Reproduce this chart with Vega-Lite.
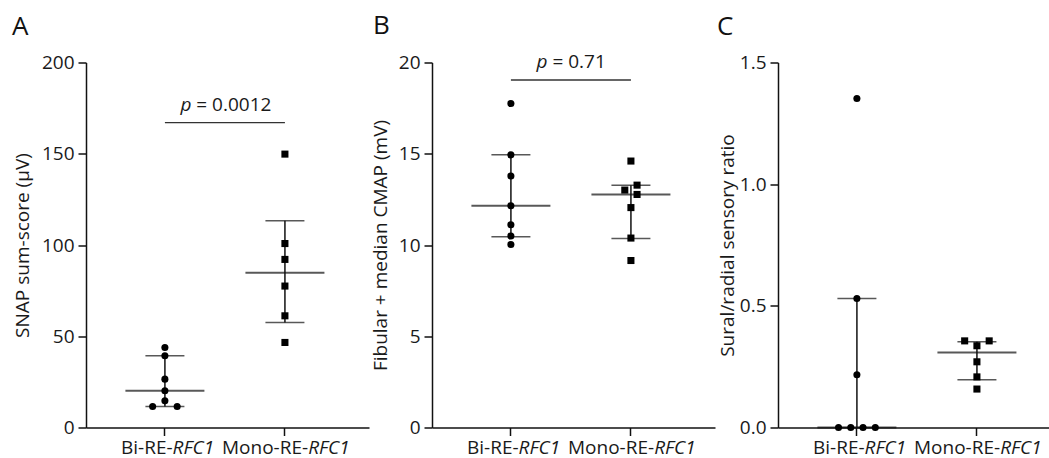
{
  "$schema": "https://vega.github.io/schema/vega-lite/v6.json",
  "padding": {"left": 12, "top": 12.5, "right": 0, "bottom": 6},
  "background": "white",
  "bounds": "flush",
  "spacing": 63,
  "config": {
    "view": {"stroke": null},
    "font": "Open Sans",
    "axis": {
      "domainColor": "#111", "domainWidth": 1.5, "tickColor": "#111", "tickWidth": 1.5, "tickSize": 8,
      "labelFont": "Open Sans", "labelFontSize": 19, "labelColor": "#1a1a1a", "labelPadding": 4,
      "titleFont": "Open Sans", "titleFontSize": 19, "titleFontWeight": "normal", "titleColor": "#1a1a1a",
      "grid": false
    },
    "title": {"font": "Open Sans", "fontSize": 26, "fontWeight": "normal", "color": "#111", "anchor": "start", "frame": "group"},
    "text": {"font": "Open Sans", "fontSize": 19, "color": "#1a1a1a", "baseline": "alphabetic"}
  },
  "datasets": {
    "pts": [
      {"panel": "A", "group": 1, "slot": 0, "value": 43.8},
      {"panel": "A", "group": 1, "slot": 0, "value": 39.3},
      {"panel": "A", "group": 1, "slot": 0, "value": 26.5},
      {"panel": "A", "group": 1, "slot": 0, "value": 20.1},
      {"panel": "A", "group": 1, "slot": 0, "value": 14.6},
      {"panel": "A", "group": 1, "slot": -1, "value": 11.5},
      {"panel": "A", "group": 1, "slot": 1, "value": 11.5},
      {"panel": "A", "group": 2, "slot": 0, "value": 149.8},
      {"panel": "A", "group": 2, "slot": 0, "value": 100.8},
      {"panel": "A", "group": 2, "slot": 0, "value": 92.1},
      {"panel": "A", "group": 2, "slot": 0, "value": 77.5},
      {"panel": "A", "group": 2, "slot": 0, "value": 61.2},
      {"panel": "A", "group": 2, "slot": 0, "value": 46.6},
      {"panel": "B", "group": 1, "slot": 0, "value": 17.75},
      {"panel": "B", "group": 1, "slot": 0, "value": 14.94},
      {"panel": "B", "group": 1, "slot": 0, "value": 13.78},
      {"panel": "B", "group": 1, "slot": 0, "value": 12.15},
      {"panel": "B", "group": 1, "slot": 0, "value": 11.11},
      {"panel": "B", "group": 1, "slot": 0, "value": 10.49},
      {"panel": "B", "group": 1, "slot": 0, "value": 10.03},
      {"panel": "B", "group": 2, "slot": 0, "value": 14.6},
      {"panel": "B", "group": 2, "slot": -0.5, "value": 13.01},
      {"panel": "B", "group": 2, "slot": 0.5, "value": 13.28},
      {"panel": "B", "group": 2, "slot": 0.5, "value": 12.77},
      {"panel": "B", "group": 2, "slot": 0, "value": 12.05},
      {"panel": "B", "group": 2, "slot": 0, "value": 10.38},
      {"panel": "B", "group": 2, "slot": 0, "value": 9.15},
      {"panel": "C", "group": 1, "slot": 0, "value": 1.352},
      {"panel": "C", "group": 1, "slot": 0, "value": 0.53},
      {"panel": "C", "group": 1, "slot": 0, "value": 0.217},
      {"panel": "C", "group": 1, "slot": -1.5, "value": 0},
      {"panel": "C", "group": 1, "slot": -0.5, "value": 0},
      {"panel": "C", "group": 1, "slot": 0.5, "value": 0},
      {"panel": "C", "group": 1, "slot": 1.5, "value": 0},
      {"panel": "C", "group": 2, "slot": -1, "value": 0.356},
      {"panel": "C", "group": 2, "slot": 1, "value": 0.356},
      {"panel": "C", "group": 2, "slot": 0, "value": 0.336},
      {"panel": "C", "group": 2, "slot": 0, "value": 0.27},
      {"panel": "C", "group": 2, "slot": 0, "value": 0.208},
      {"panel": "C", "group": 2, "slot": 0, "value": 0.158}
    ],
    "sum": [
      {"panel": "A", "group": 1, "median": 20.1, "q1": 11.5, "q3": 39.3},
      {"panel": "A", "group": 2, "median": 84.8, "q1": 57.5, "q3": 113.3},
      {"panel": "B", "group": 1, "median": 12.15, "q1": 10.45, "q3": 14.94},
      {"panel": "B", "group": 2, "median": 12.77, "q1": 10.36, "q3": 13.28},
      {"panel": "C", "group": 1, "median": 0, "q1": 0, "q3": 0.53},
      {"panel": "C", "group": 2, "median": 0.308, "q1": 0.196, "q3": 0.352}
    ],
    "ann": [
      {"panel": "A", "from": 1, "to": 2, "y": 167.1, "p": "p", "rest": "= 0.0012"},
      {"panel": "B", "from": 1, "to": 2, "y": 19.04, "p": "p", "rest": "= 0.71"}
    ],
    "labs": [
      {"group": 1, "plain": "Bi-RE-", "ital": "RFC1"},
      {"group": 2, "plain": "Mono-RE-", "ital": "RFC1"}
    ]
  },
  "hconcat": [
    {
      "title": {"text": "A", "dx": -74, "offset": 14},
      "width": 283, "height": 365,
      "layer": [
        {
          "data": {"name": "sum"}, "transform": [{"filter": "datum.panel == 'A'"}],
          "mark": {"type": "rule", "color": "#111", "strokeWidth": 1.5},
          "encoding": {
            "x": {"field": "group", "type": "ordinal", "scale": {"type": "band", "domain": [1, 2], "paddingInner": 0, "paddingOuter": 0.179, "align": 0.44}, "axis": {"labels": false, "title": null}},
            "y": {"field": "q1", "type": "quantitative", "scale": {"domain": [0, 200], "nice": false}, "axis": {"values": [0, 50, 100, 150, 200], "title": "SNAP sum-score (μV)", "titlePadding": 9}},
            "y2": {"field": "q3"}
          }
        },
        {
          "data": {"name": "sum"}, "transform": [{"filter": "datum.panel == 'A'"}],
          "mark": {"type": "tick", "orient": "horizontal", "color": "#111", "size": 79, "thickness": 2},
          "encoding": {"x": {"field": "group", "type": "ordinal"}, "y": {"field": "median", "type": "quantitative"}}
        },
        {
          "data": {"name": "sum"}, "transform": [{"filter": "datum.panel == 'A'"}],
          "mark": {"type": "tick", "orient": "horizontal", "color": "#111", "size": 39, "thickness": 1.5},
          "encoding": {"x": {"field": "group", "type": "ordinal"}, "y": {"field": "q1", "type": "quantitative"}}
        },
        {
          "data": {"name": "sum"}, "transform": [{"filter": "datum.panel == 'A'"}],
          "mark": {"type": "tick", "orient": "horizontal", "color": "#111", "size": 39, "thickness": 1.5},
          "encoding": {"x": {"field": "group", "type": "ordinal"}, "y": {"field": "q3", "type": "quantitative"}}
        },
        {
          "data": {"name": "pts"}, "transform": [{"filter": "datum.panel == 'A'"}],
          "mark": {"type": "point", "filled": true, "color": "#000", "opacity": 1, "size": 50},
          "encoding": {
            "x": {"field": "group", "type": "ordinal"},
            "xOffset": {"field": "slot", "type": "ordinal", "scale": {"type": "point", "domain": [-1.5, -1, -0.5, 0, 0.5, 1, 1.5], "range": [38.55, 81.45]}},
            "y": {"field": "value", "type": "quantitative"},
            "shape": {"field": "group", "type": "nominal", "scale": {"domain": [1, 2], "range": ["circle", "square"]}, "legend": null}
          }
        },
        {
          "data": {"name": "ann"}, "transform": [{"filter": "datum.panel == 'A'"}],
          "mark": {"type": "rule", "color": "#333", "strokeWidth": 1.3},
          "encoding": {"x": {"field": "from", "type": "ordinal"}, "x2": {"field": "to"}, "y": {"field": "y", "type": "quantitative"}}
        },
        {
          "data": {"name": "ann"}, "transform": [{"filter": "datum.panel == 'A'"}],
          "mark": {"type": "text", "fontStyle": "italic", "align": "right", "dx": 26.5, "dy": -12},
          "encoding": {"x": {"field": "from", "type": "ordinal"}, "y": {"field": "y", "type": "quantitative"}, "text": {"field": "p"}}
        },
        {
          "data": {"name": "ann"}, "transform": [{"filter": "datum.panel == 'A'"}],
          "mark": {"type": "text", "align": "left", "dx": 31.4, "dy": -12},
          "encoding": {"x": {"field": "from", "type": "ordinal"}, "y": {"field": "y", "type": "quantitative"}, "text": {"field": "rest"}}
        },
        {
          "data": {"name": "labs"}, "transform": [{"filter": "datum.group == 1"}],
          "mark": {"type": "text", "align": "right", "dx": 7.7, "dy": 26},
          "encoding": {"x": {"field": "group", "type": "ordinal"}, "y": {"datum": 0}, "text": {"field": "plain"}}
        },
        {
          "data": {"name": "labs"}, "transform": [{"filter": "datum.group == 1"}],
          "mark": {"type": "text", "fontStyle": "italic", "align": "left", "dx": 7.7, "dy": 26},
          "encoding": {"x": {"field": "group", "type": "ordinal"}, "y": {"datum": 0}, "text": {"field": "ital"}}
        },
        {
          "data": {"name": "labs"}, "transform": [{"filter": "datum.group == 2"}],
          "mark": {"type": "text", "align": "right", "dx": 23.2, "dy": 26},
          "encoding": {"x": {"field": "group", "type": "ordinal"}, "y": {"datum": 0}, "text": {"field": "plain"}}
        },
        {
          "data": {"name": "labs"}, "transform": [{"filter": "datum.group == 2"}],
          "mark": {"type": "text", "fontStyle": "italic", "align": "left", "dx": 23.2, "dy": 26},
          "encoding": {"x": {"field": "group", "type": "ordinal"}, "y": {"datum": 0}, "text": {"field": "ital"}}
        }
      ]
    },
    {
      "title": {"text": "B", "dx": -59, "offset": 14},
      "width": 283, "height": 365,
      "layer": [
        {
          "data": {"name": "sum"}, "transform": [{"filter": "datum.panel == 'B'"}],
          "mark": {"type": "rule", "color": "#111", "strokeWidth": 1.5},
          "encoding": {
            "x": {"field": "group", "type": "ordinal", "scale": {"type": "band", "domain": [1, 2], "paddingInner": 0, "paddingOuter": 0.179, "align": 0.44}, "axis": {"labels": false, "title": null}},
            "y": {"field": "q1", "type": "quantitative", "scale": {"domain": [0, 20], "nice": false}, "axis": {"values": [0, 5, 10, 15, 20], "title": "Fibular + median CMAP (mV)", "titlePadding": 8}},
            "y2": {"field": "q3"}
          }
        },
        {
          "data": {"name": "sum"}, "transform": [{"filter": "datum.panel == 'B'"}],
          "mark": {"type": "tick", "orient": "horizontal", "color": "#111", "size": 79, "thickness": 2},
          "encoding": {"x": {"field": "group", "type": "ordinal"}, "y": {"field": "median", "type": "quantitative"}}
        },
        {
          "data": {"name": "sum"}, "transform": [{"filter": "datum.panel == 'B'"}],
          "mark": {"type": "tick", "orient": "horizontal", "color": "#111", "size": 39, "thickness": 1.5},
          "encoding": {"x": {"field": "group", "type": "ordinal"}, "y": {"field": "q1", "type": "quantitative"}}
        },
        {
          "data": {"name": "sum"}, "transform": [{"filter": "datum.panel == 'B'"}],
          "mark": {"type": "tick", "orient": "horizontal", "color": "#111", "size": 39, "thickness": 1.5},
          "encoding": {"x": {"field": "group", "type": "ordinal"}, "y": {"field": "q3", "type": "quantitative"}}
        },
        {
          "data": {"name": "pts"}, "transform": [{"filter": "datum.panel == 'B'"}],
          "mark": {"type": "point", "filled": true, "color": "#000", "opacity": 1, "size": 50},
          "encoding": {
            "x": {"field": "group", "type": "ordinal"},
            "xOffset": {"field": "slot", "type": "ordinal", "scale": {"type": "point", "domain": [-1.5, -1, -0.5, 0, 0.5, 1, 1.5], "range": [38.55, 81.45]}},
            "y": {"field": "value", "type": "quantitative"},
            "shape": {"field": "group", "type": "nominal", "scale": {"domain": [1, 2], "range": ["circle", "square"]}, "legend": null}
          }
        },
        {
          "data": {"name": "ann"}, "transform": [{"filter": "datum.panel == 'B'"}],
          "mark": {"type": "rule", "color": "#333", "strokeWidth": 1.3},
          "encoding": {"x": {"field": "from", "type": "ordinal"}, "x2": {"field": "to"}, "y": {"field": "y", "type": "quantitative"}}
        },
        {
          "data": {"name": "ann"}, "transform": [{"filter": "datum.panel == 'B'"}],
          "mark": {"type": "text", "fontStyle": "italic", "align": "right", "dx": 36.6, "dy": -12},
          "encoding": {"x": {"field": "from", "type": "ordinal"}, "y": {"field": "y", "type": "quantitative"}, "text": {"field": "p"}}
        },
        {
          "data": {"name": "ann"}, "transform": [{"filter": "datum.panel == 'B'"}],
          "mark": {"type": "text", "align": "left", "dx": 41.5, "dy": -12},
          "encoding": {"x": {"field": "from", "type": "ordinal"}, "y": {"field": "y", "type": "quantitative"}, "text": {"field": "rest"}}
        },
        {
          "data": {"name": "labs"}, "transform": [{"filter": "datum.group == 1"}],
          "mark": {"type": "text", "align": "right", "dx": 7.7, "dy": 26},
          "encoding": {"x": {"field": "group", "type": "ordinal"}, "y": {"datum": 0}, "text": {"field": "plain"}}
        },
        {
          "data": {"name": "labs"}, "transform": [{"filter": "datum.group == 1"}],
          "mark": {"type": "text", "fontStyle": "italic", "align": "left", "dx": 7.7, "dy": 26},
          "encoding": {"x": {"field": "group", "type": "ordinal"}, "y": {"datum": 0}, "text": {"field": "ital"}}
        },
        {
          "data": {"name": "labs"}, "transform": [{"filter": "datum.group == 2"}],
          "mark": {"type": "text", "align": "right", "dx": 23.2, "dy": 26},
          "encoding": {"x": {"field": "group", "type": "ordinal"}, "y": {"datum": 0}, "text": {"field": "plain"}}
        },
        {
          "data": {"name": "labs"}, "transform": [{"filter": "datum.group == 2"}],
          "mark": {"type": "text", "fontStyle": "italic", "align": "left", "dx": 23.2, "dy": 26},
          "encoding": {"x": {"field": "group", "type": "ordinal"}, "y": {"datum": 0}, "text": {"field": "ital"}}
        }
      ]
    },
    {
      "title": {"text": "C", "dx": -61, "offset": 14},
      "width": 283, "height": 365,
      "layer": [
        {
          "data": {"name": "sum"}, "transform": [{"filter": "datum.panel == 'C'"}],
          "mark": {"type": "rule", "color": "#111", "strokeWidth": 1.5},
          "encoding": {
            "x": {"field": "group", "type": "ordinal", "scale": {"type": "band", "domain": [1, 2], "paddingInner": 0, "paddingOuter": 0.179, "align": 0.44}, "axis": {"labels": false, "title": null}},
            "y": {"field": "q1", "type": "quantitative", "scale": {"domain": [0, 1.5], "nice": false}, "axis": {"values": [0, 0.5, 1, 1.5], "format": ".1f", "title": "Sural/radial sensory ratio", "titlePadding": 2}},
            "y2": {"field": "q3"}
          }
        },
        {
          "data": {"name": "sum"}, "transform": [{"filter": "datum.panel == 'C'"}],
          "mark": {"type": "tick", "orient": "horizontal", "color": "#111", "size": 79, "thickness": 2},
          "encoding": {"x": {"field": "group", "type": "ordinal"}, "y": {"field": "median", "type": "quantitative"}}
        },
        {
          "data": {"name": "sum"}, "transform": [{"filter": "datum.panel == 'C'"}],
          "mark": {"type": "tick", "orient": "horizontal", "color": "#111", "size": 39, "thickness": 1.5},
          "encoding": {"x": {"field": "group", "type": "ordinal"}, "y": {"field": "q1", "type": "quantitative"}}
        },
        {
          "data": {"name": "sum"}, "transform": [{"filter": "datum.panel == 'C'"}],
          "mark": {"type": "tick", "orient": "horizontal", "color": "#111", "size": 39, "thickness": 1.5},
          "encoding": {"x": {"field": "group", "type": "ordinal"}, "y": {"field": "q3", "type": "quantitative"}}
        },
        {
          "data": {"name": "pts"}, "transform": [{"filter": "datum.panel == 'C'"}],
          "mark": {"type": "point", "filled": true, "color": "#000", "opacity": 1, "size": 50},
          "encoding": {
            "x": {"field": "group", "type": "ordinal"},
            "xOffset": {"field": "slot", "type": "ordinal", "scale": {"type": "point", "domain": [-1.5, -1, -0.5, 0, 0.5, 1, 1.5], "range": [38.55, 81.45]}},
            "y": {"field": "value", "type": "quantitative"},
            "shape": {"field": "group", "type": "nominal", "scale": {"domain": [1, 2], "range": ["circle", "square"]}, "legend": null}
          }
        },
        {
          "data": {"name": "labs"}, "transform": [{"filter": "datum.group == 1"}],
          "mark": {"type": "text", "align": "right", "dx": 7.7, "dy": 26},
          "encoding": {"x": {"field": "group", "type": "ordinal"}, "y": {"datum": 0}, "text": {"field": "plain"}}
        },
        {
          "data": {"name": "labs"}, "transform": [{"filter": "datum.group == 1"}],
          "mark": {"type": "text", "fontStyle": "italic", "align": "left", "dx": 7.7, "dy": 26},
          "encoding": {"x": {"field": "group", "type": "ordinal"}, "y": {"datum": 0}, "text": {"field": "ital"}}
        },
        {
          "data": {"name": "labs"}, "transform": [{"filter": "datum.group == 2"}],
          "mark": {"type": "text", "align": "right", "dx": 23.2, "dy": 26},
          "encoding": {"x": {"field": "group", "type": "ordinal"}, "y": {"datum": 0}, "text": {"field": "plain"}}
        },
        {
          "data": {"name": "labs"}, "transform": [{"filter": "datum.group == 2"}],
          "mark": {"type": "text", "fontStyle": "italic", "align": "left", "dx": 23.2, "dy": 26},
          "encoding": {"x": {"field": "group", "type": "ordinal"}, "y": {"datum": 0}, "text": {"field": "ital"}}
        }
      ]
    }
  ]
}
